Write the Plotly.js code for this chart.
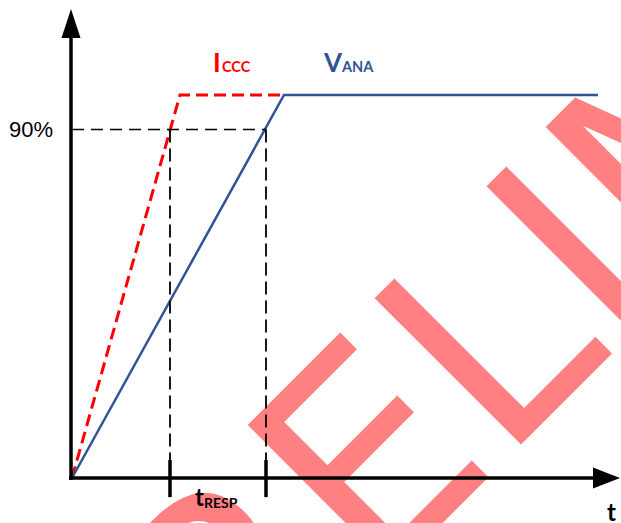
<!DOCTYPE html>
<html><head><meta charset="utf-8">
<script src="https://cdn.plot.ly/plotly-3.0.1.min.js"></script>
<style>html,body{margin:0;padding:0;background:#fff;}#chart{width:621px;height:523px;}</style>
</head><body><div id="chart"></div>
<script>
// ---- data ----
const icccT = [0, 10.8, 21.1];          // I_CCC time points
const icccLevel = [0, 100, 100];        // I_CCC level (% of final)
const vanaT = [0, 21.2, 52.6];          // V_ANA time points
const vanaLevel = [0, 100, 100];        // V_ANA level (% of final)
const thresholdLevel = 91;              // dashed "90%" level as drawn
const respT = [9.8, 19.4];              // 90% crossing times (start/end of t_RESP)
const thresholdLabel = "90%";
const icccName = ["I", "CCC"];
const vanaName = ["V", "ANA"];
const respName = ["t", "RESP"];
const axisName = "t";
const watermarkText = "PRELIMINARY";

// ---- layout helpers (pixel -> paper) ----
const W = 621, H = 523;
const px = x => x / W, py = y => 1 - y / H;
const tickTop = 4.7, tickBot = -5;

const traces = [
  {x: icccT, y: icccLevel, mode: 'lines', line: {color: '#FF0000', width: 3, dash: '12px,6px'}, hoverinfo: 'skip'},
  {x: vanaT, y: vanaLevel, mode: 'lines', line: {color: '#2F5597', width: 2.5}, hoverinfo: 'skip'},
  {x: [0, respT[1]], y: [thresholdLevel, thresholdLevel], mode: 'lines',
   line: {color: '#000', width: 1.6, dash: '12px,7px'}, hoverinfo: 'skip'},
  {x: [respT[0], respT[0], null, respT[1], respT[1]],
   y: [thresholdLevel, tickTop, null, thresholdLevel, tickTop], mode: 'lines',
   line: {color: '#000', width: 1.8, dash: '13px,6px'}, hoverinfo: 'skip'},
  {x: [respT[0], respT[0], null, respT[1], respT[1]],
   y: [tickBot, tickTop, null, tickBot, tickTop], mode: 'lines',
   line: {color: '#000', width: 3.5}, hoverinfo: 'skip'}
];

function pathPx(pts) {
  return 'M' + pts.map(p => px(p[0]) + ',' + py(p[1])).join('L') + 'Z';
}

const wmX = 694, wmY = 104;
const shapes = [
  {type: 'rect', xref: 'paper', yref: 'paper', x0: px(wmX - 2), x1: px(wmX + 2), y0: py(wmY + 2), y1: py(wmY - 2),
   line: {width: 0}, fillcolor: 'rgba(0,0,0,0)', layer: 'below',
   label: {text: watermarkText, textangle: -45, textposition: 'middle center',
           font: {family: '"DejaVu Sans", sans-serif', size: 284, color: '#FF8080'}}},
  {type: 'line', xref: 'paper', yref: 'paper', x0: px(71), x1: px(71), y0: py(480), y1: py(34),
   line: {color: '#000', width: 3.5}},
  {type: 'path', xref: 'paper', yref: 'paper', path: pathPx([[71, 9], [61.5, 38], [80.5, 38]]),
   fillcolor: '#000', line: {width: 0}},
  {type: 'line', xref: 'paper', yref: 'paper', x0: px(69), x1: px(598), y0: py(478), y1: py(478),
   line: {color: '#000', width: 3.5}},
  {type: 'path', xref: 'paper', yref: 'paper', path: pathPx([[620, 478], [593, 467.5], [593, 488.5]]),
   fillcolor: '#000', line: {width: 0}}
];

const lato = 'Lato, "Open Sans", sans-serif';
function ann(text, x, y, size, color, family) {
  return {text: text, xref: 'paper', yref: 'paper', x: px(x), y: py(y), showarrow: false,
          xanchor: 'center', yanchor: 'middle', font: {family: family || lato, size: size, color: color}};
}
const red = '#FF0000', blue = '#2F5597';
const annotations = [
  ann(thresholdLabel, 30.5, 129.4, 22, '#000', 'Liberation Sans, Arial, sans-serif'),
  ann('<b>' + icccName[0] + '</b>', 217, 62, 26, red),
  ann('<b>' + icccName[1] + '</b>', 236.5, 66.3, 14.5, red),
  ann('<b>' + vanaName[0] + '</b>', 332.5, 62, 26, blue),
  ann('<b>' + vanaName[1] + '</b>', 357.5, 66.3, 14.5, blue),
  ann('<b>' + respName[0] + '</b>', 199, 496, 24, '#000'),
  ann('<b>' + respName[1] + '</b>', 221.5, 502.6, 14, '#000'),
  ann('<b>' + axisName + '</b>', 611.5, 511, 24, '#000')
];

const layout = {
  width: W, height: H, margin: {l: 0, r: 0, t: 0, b: 0},
  paper_bgcolor: '#fff', plot_bgcolor: 'rgba(0,0,0,0)', showlegend: false,
  xaxis: {visible: false, range: [-7.2, 54.9], fixedrange: true},
  yaxis: {visible: false, range: [-11.75, 124.8], fixedrange: true},
  shapes: shapes, annotations: annotations
};
Plotly.newPlot('chart', traces, layout, {staticPlot: true, displayModeBar: false});
</script></body></html>
